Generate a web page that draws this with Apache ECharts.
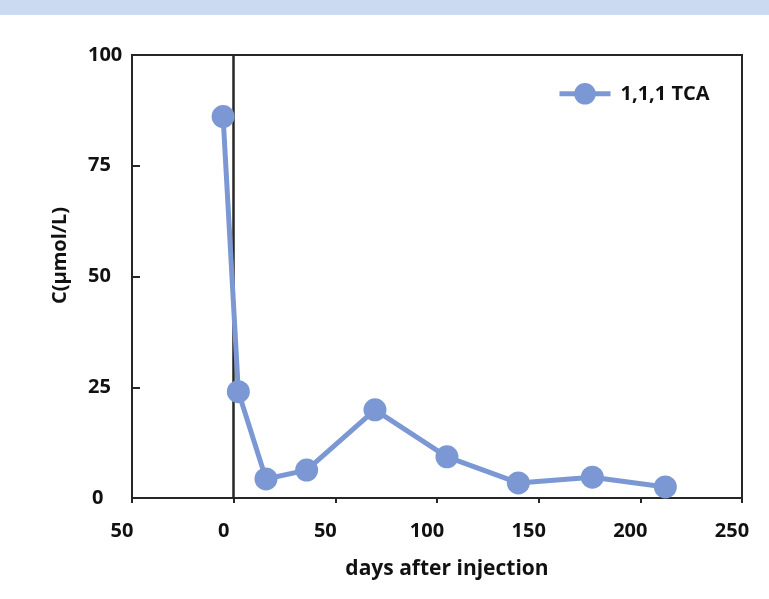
<!DOCTYPE html>
<html>
<head>
<meta charset="utf-8">
<script src="https://cdn.jsdelivr.net/npm/echarts@6/dist/echarts.min.js"></script>
<style>
html,body{margin:0;padding:0;background:#fff;}
#chart{width:769px;height:599px;}
</style>
</head>
<body>
<div id="chart"></div>
<script>
// Data
var seriesName = '1,1,1 TCA';
var days = [-5.2, 2.3, 15.9, 35.9, 69.5, 104.9, 140, 176.4, 212.3];
var concentration = [86.1, 24.0, 4.3, 6.3, 19.9, 9.3, 3.4, 4.7, 2.5];
var xTicks = [-50, 0, 50, 100, 150, 200, 250];
var yTicks = [0, 25, 50, 75, 100];
var xAxisTitle = 'days after injection';
var yAxisTitle = 'C(μmol/L)';
var injectionDay = 0;

var FONT = '"Open Sans", Lato, sans-serif';
var INK = '#111111';
var BLUE = '#7B98D4';

var points = days.map(function (d, i) { return [d, concentration[i]]; });

var chart = echarts.init(document.getElementById('chart'), null, {renderer: 'canvas'});
chart.setOption({
  backgroundColor: '#ffffff',
  animation: false,
  graphic: [{
    type: 'rect', left: 0, top: 0, z: 0,
    shape: {width: 769, height: 15},
    style: {fill: '#CBDAF0'}
  }],
  grid: {
    left: 132, right: 27, top: 55, bottom: 101,
    show: true, borderColor: '#262626', borderWidth: 2, backgroundColor: 'transparent'
  },
  legend: {
    data: [seriesName],
    left: 557, top: 83, padding: 0,
    itemWidth: 51, itemHeight: 27,
    lineStyle: {width: 5},
    textStyle: {fontFamily: FONT, fontWeight: 'bold', fontSize: 20, color: INK, padding: [0, 0, 0, 5]}
  },
  xAxis: {
    type: 'value',
    min: xTicks[0], max: xTicks[xTicks.length - 1], interval: 50,
    name: xAxisTitle, nameLocation: 'middle', nameGap: 61,
    nameTextStyle: {fontFamily: FONT, fontWeight: 'bold', fontSize: 21, color: INK, padding: [0, 0, 0, 20]},
    axisLine: {show: true, onZero: false, lineStyle: {color: '#262626', width: 2}},
    axisTick: {show: true, inside: false, length: 5, lineStyle: {color: '#262626', width: 2}},
    splitLine: {show: false},
    axisLabel: {
      fontFamily: FONT, fontWeight: 'bold', fontSize: 20, color: INK, margin: 23,
      padding: [0, 20, 0, 0],
      formatter: function (v) { return String(Math.abs(v)); }
    }
  },
  yAxis: {
    type: 'value',
    min: yTicks[0], max: yTicks[yTicks.length - 1], interval: 25,
    name: yAxisTitle, nameLocation: 'middle', nameGap: 62,
    nameTextStyle: {fontFamily: FONT, fontWeight: 'bold', fontSize: 20, color: INK, padding: [0, 0, 0, 42]},
    axisLine: {show: true, onZero: false, lineStyle: {color: '#262626', width: 2}},
    axisTick: {show: true, inside: true, length: 8, lineStyle: {color: '#262626', width: 2}},
    splitLine: {show: false},
    axisLabel: {
      fontFamily: FONT, fontWeight: 'bold', fontSize: 20, color: INK, margin: 44, align: 'left',
      formatter: function (v) { return v === 0 ? '{z|0}' : String(v); },
      rich: {z: {fontFamily: FONT, fontWeight: 'bold', fontSize: 20, color: INK, padding: [0, 0, 0, 4]}}
    }
  },
  series: [{
    name: seriesName,
    type: 'line',
    data: points,
    symbol: 'circle',
    symbolSize: 23,
    itemStyle: {color: BLUE},
    lineStyle: {color: BLUE, width: 5},
    z: 3,
    markLine: {
      silent: true,
      symbol: ['none', 'none'],
      label: {show: false},
      lineStyle: {color: '#262626', width: 2.5, type: 'solid'},
      data: [{xAxis: injectionDay}],
      z: 1
    }
  }]
});
</script>
</body>
</html>
